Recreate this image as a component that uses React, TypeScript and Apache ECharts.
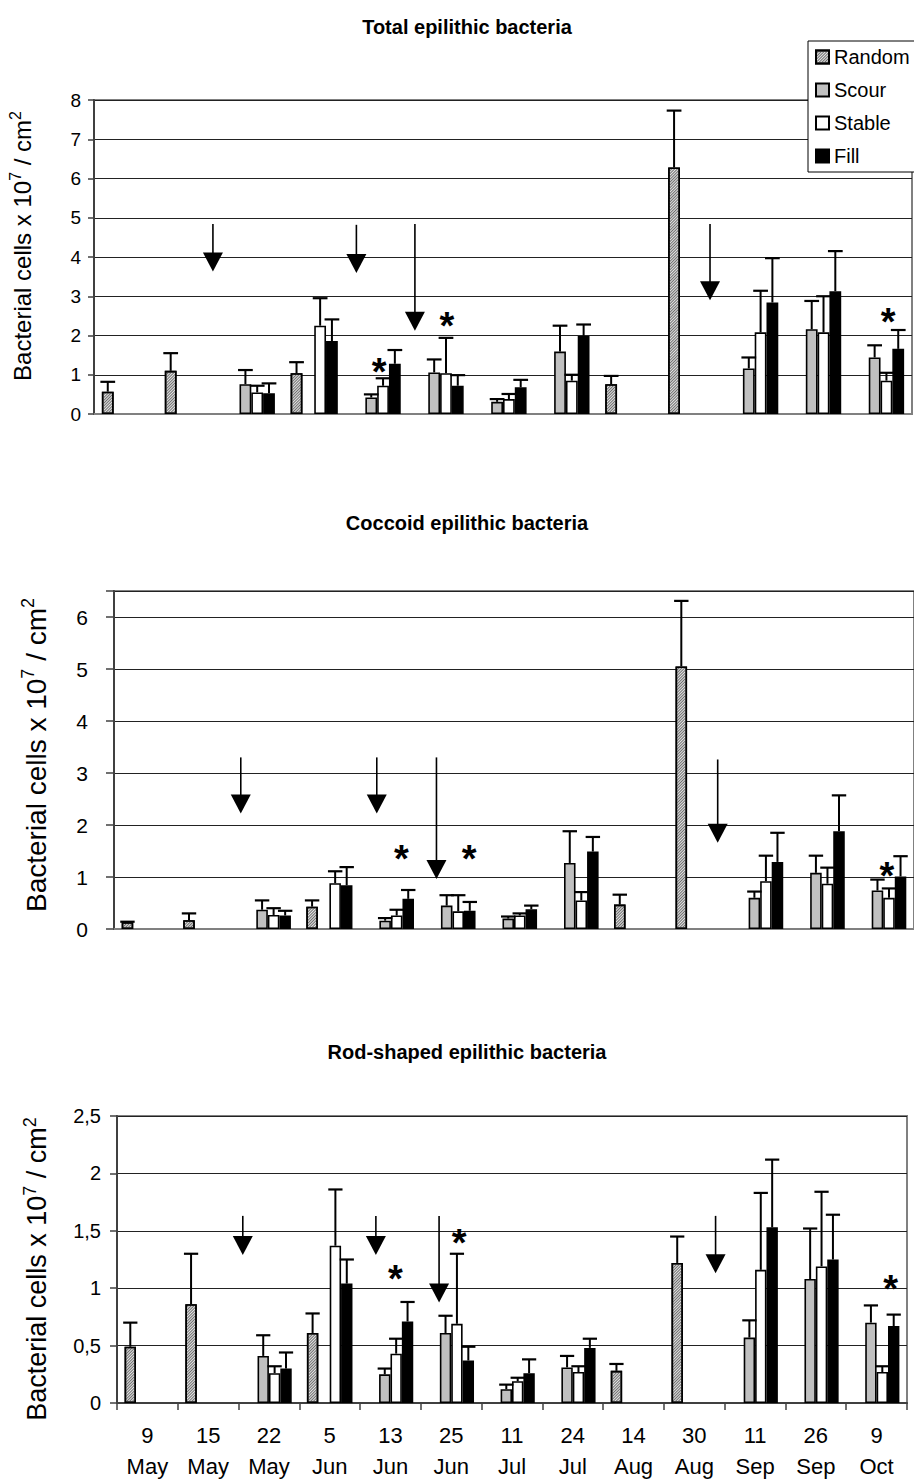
import React, { useEffect, useRef } from 'react';
import * as echarts from 'echarts';

const FONT = '"Liberation Sans", Arial, sans-serif';

const CATEGORIES = ['9\nMay', '15\nMay', '22\nMay', '5\nJun', '13\nJun', '25\nJun', '11\nJul', '24\nJul', '14\nAug', '30\nAug', '11\nSep', '26\nSep', '9\nOct'];
const SERIES_NAMES = ['Random', 'Scour', 'Stable', 'Fill'];

// ---- Total epilithic bacteria ----
const TOTAL_RANDOM = [0.57, 1.10, null, 1.04, null, null, null, null, 0.76, 6.28, null, null, null];
const TOTAL_RANDOM_ERR = [0.82, 1.55, null, 1.32, null, null, null, null, 0.97, 7.73, null, null, null];
const TOTAL_SCOUR = [null, null, 0.76, null, 0.42, 1.06, 0.31, 1.59, null, null, 1.16, 2.16, 1.44];
const TOTAL_SCOUR_ERR = [null, null, 1.12, null, 0.50, 1.39, 0.38, 2.25, null, null, 1.44, 2.88, 1.75];
const TOTAL_STABLE = [null, null, 0.55, 2.25, 0.72, 1.04, 0.38, 0.85, null, null, 2.08, 2.08, 0.85];
const TOTAL_STABLE_ERR = [null, null, 0.72, 2.95, 0.91, 1.94, 0.51, 1.00, null, null, 3.14, 3.00, 1.05];
const TOTAL_FILL = [null, null, 0.53, 1.86, 1.28, 0.72, 0.68, 1.99, null, null, 2.84, 3.13, 1.66];
const TOTAL_FILL_ERR = [null, null, 0.78, 2.41, 1.63, 0.99, 0.87, 2.28, null, null, 3.97, 4.15, 2.14];
// arrows: [position in category units, y start, y tip]
const TOTAL_ARROWS = [[1.89, 4.84, 3.63], [4.17, 4.82, 3.59], [5.10, 4.84, 2.12], [9.79, 4.84, 2.90]];
const TOTAL_STARS = [[4.53, 1.31], [5.61, 2.47], [12.62, 2.57]];

// ---- Coccoid epilithic bacteria ----
const COCC_RANDOM = [0.13, 0.17, null, 0.43, null, null, null, null, 0.47, 5.05, null, null, null];
const COCC_RANDOM_ERR = [0.14, 0.30, null, 0.55, null, null, null, null, 0.66, 6.31, null, null, null];
const COCC_SCOUR = [null, null, 0.37, null, 0.16, 0.45, 0.20, 1.27, null, null, 0.60, 1.08, 0.74];
const COCC_SCOUR_ERR = [null, null, 0.55, null, 0.21, 0.65, 0.24, 1.88, null, null, 0.72, 1.41, 0.95];
const COCC_STABLE = [null, null, 0.27, 0.88, 0.26, 0.34, 0.26, 0.55, null, null, 0.92, 0.87, 0.60];
const COCC_STABLE_ERR = [null, null, 0.40, 1.11, 0.37, 0.65, 0.30, 0.71, null, null, 1.41, 1.18, 0.78];
const COCC_FILL = [null, null, 0.26, 0.84, 0.58, 0.35, 0.38, 1.49, null, null, 1.29, 1.88, 1.01];
const COCC_FILL_ERR = [null, null, 0.35, 1.19, 0.75, 0.52, 0.45, 1.77, null, null, 1.85, 2.57, 1.40];
const COCC_ARROWS = [[2.06, 3.30, 2.22], [4.27, 3.30, 2.22], [5.24, 3.30, 0.96], [9.81, 3.26, 1.66]];
const COCC_STARS = [[4.67, 1.51], [5.77, 1.51], [12.56, 1.19]];

// ---- Rod-shaped epilithic bacteria ----
const ROD_RANDOM = [0.49, 0.86, null, 0.61, null, null, null, null, 0.28, 1.22, null, null, null];
const ROD_RANDOM_ERR = [0.70, 1.30, null, 0.78, null, null, null, null, 0.34, 1.45, null, null, null];
const ROD_SCOUR = [null, null, 0.41, null, 0.25, 0.61, 0.12, 0.31, null, null, 0.57, 1.08, 0.70];
const ROD_SCOUR_ERR = [null, null, 0.59, null, 0.30, 0.76, 0.16, 0.41, null, null, 0.72, 1.52, 0.85];
const ROD_STABLE = [null, null, 0.26, 1.37, 0.43, 0.69, 0.19, 0.27, null, null, 1.16, 1.19, 0.27];
const ROD_STABLE_ERR = [null, null, 0.32, 1.86, 0.56, 1.30, 0.22, 0.32, null, null, 1.83, 1.84, 0.32];
const ROD_FILL = [null, null, 0.30, 1.04, 0.71, 0.37, 0.26, 0.48, null, null, 1.53, 1.25, 0.67];
const ROD_FILL_ERR = [null, null, 0.44, 1.25, 0.88, 0.49, 0.38, 0.56, null, null, 2.12, 1.64, 0.77];
const ROD_ARROWS = [[2.07, 1.63, 1.29], [4.26, 1.63, 1.29], [5.30, 1.63, 0.876], [9.85, 1.63, 1.13]];
const ROD_STARS = [[4.58, 1.16], [5.63, 1.47], [12.73, 1.07]];

const BAR_STYLES: any[] = [
  {
    color: '#e4e4e4', borderColor: '#000', borderWidth: 1.6,
    decal: { symbol: 'rect', symbolSize: 1, dashArrayX: [1, 0], dashArrayY: [1, 1], rotation: -Math.PI / 4, color: '#6e6e6e' },
  },
  { color: '#c0c0c0', borderColor: '#000', borderWidth: 1.6 },
  { color: '#ffffff', borderColor: '#000', borderWidth: 1.6 },
  { color: '#000000', borderColor: '#000', borderWidth: 1.6 },
];

const PANELS = [
  {
    title: 'Total epilithic bacteria', titleTop: 12,
    grid: { left: 94, top: 100, width: 818, height: 314 },
    yMax: 8, yInterval: 1, labelFont: 19, labelMargin: 13, tickLen: 6,
    fmt: (v: number) => String(v),
    name: { x: 22, y: 246, size: 24, sup: 16 },
    values: [TOTAL_RANDOM, TOTAL_SCOUR, TOTAL_STABLE, TOTAL_FILL],
    errs: [TOTAL_RANDOM_ERR, TOTAL_SCOUR_ERR, TOTAL_STABLE_ERR, TOTAL_FILL_ERR],
    arrows: TOTAL_ARROWS, stars: TOTAL_STARS,
  },
  {
    title: 'Coccoid epilithic bacteria', titleTop: 508,
    grid: { left: 114, top: 591, width: 806, height: 338 },
    yMax: 6.5, yInterval: 1, labelFont: 21, labelMargin: 26, tickLen: 8,
    fmt: (v: number) => (Number.isInteger(v) ? String(v) : ''),
    name: { x: 36, y: 755, size: 28, sup: 18 },
    values: [COCC_RANDOM, COCC_SCOUR, COCC_STABLE, COCC_FILL],
    errs: [COCC_RANDOM_ERR, COCC_SCOUR_ERR, COCC_STABLE_ERR, COCC_FILL_ERR],
    arrows: COCC_ARROWS, stars: COCC_STARS,
  },
  {
    title: 'Rod-shaped epilithic bacteria', titleTop: 1037,
    grid: { left: 117, top: 1116, width: 790, height: 287 },
    yMax: 2.5, yInterval: 0.5, labelFont: 20, labelMargin: 16, tickLen: 7,
    fmt: (v: number) => String(v).replace('.', ','),
    name: { x: 37, y: 1269, size: 27, sup: 18 },
    values: [ROD_RANDOM, ROD_SCOUR, ROD_STABLE, ROD_FILL],
    errs: [ROD_RANDOM_ERR, ROD_SCOUR_ERR, ROD_STABLE_ERR, ROD_FILL_ERR],
    arrows: ROD_ARROWS, stars: ROD_STARS,
  },
];

const CAT_GAP = 0.25;

function errRender(params: any, api: any) {
  const ci = api.value(0);
  const si = api.value(1);
  const v = api.value(2);
  const e = api.value(3);
  const p0 = api.coord([ci, v]);
  const p1 = api.coord([ci, e]);
  const band = api.size([1, 0])[0];
  const w = (band * (1 - CAT_GAP)) / 4;
  const x = p0[0] - (band * (1 - CAT_GAP)) / 2 + w * (si + 0.5);
  const cap = w * 1.25;
  return {
    type: 'group',
    children: [
      { type: 'line', shape: { x1: x, y1: p0[1], x2: x, y2: p1[1] }, style: { stroke: '#000', lineWidth: 2 } },
      { type: 'line', shape: { x1: x - cap / 2, y1: p1[1], x2: x + cap / 2, y2: p1[1] }, style: { stroke: '#000', lineWidth: 2.2 } },
    ],
  };
}

function arrowRender(params: any, api: any) {
  const p1 = api.coord([api.value(0), api.value(1)]);
  const p2 = api.coord([api.value(0), api.value(2)]);
  const head = 19;
  const hw = 10;
  return {
    type: 'group',
    children: [
      { type: 'line', shape: { x1: p1[0], y1: p1[1], x2: p1[0], y2: p2[1] - head + 1 }, style: { stroke: '#000', lineWidth: 1.6 } },
      { type: 'polygon', shape: { points: [[p2[0] - hw, p2[1] - head], [p2[0] + hw, p2[1] - head], [p2[0], p2[1]]] }, style: { fill: '#000' } },
    ],
  };
}

function starRender(params: any, api: any) {
  const p = api.coord([api.value(0), api.value(1)]);
  return {
    type: 'text',
    x: p[0],
    y: p[1] + 9,
    style: { text: '*', fontSize: 38, fontWeight: 'bold', fontFamily: FONT, fill: '#000', align: 'center', verticalAlign: 'middle' },
  };
}

function buildOption() {
  const grids: any[] = [];
  const xAxes: any[] = [];
  const yAxes: any[] = [];
  const series: any[] = [];
  const titles: any[] = [];
  const graphics: any[] = [];

  PANELS.forEach((p, g) => {
    grids.push({ ...p.grid, show: true, borderColor: '#808080', borderWidth: 2, backgroundColor: 'transparent', containLabel: false });
    titles.push({
      text: p.title, left: 462, top: p.titleTop, textAlign: 'center',
      textStyle: { fontFamily: FONT, fontSize: 20, fontWeight: 'bold', color: '#000' },
    });
    xAxes.push({
      type: 'category', gridIndex: g, data: CATEGORIES,
      axisLine: { show: true, lineStyle: { color: g === 2 ? '#404040' : '#808080', width: 2 } },
      axisTick: { show: g === 2, length: 7, interval: 0, lineStyle: { color: '#404040', width: 1.5 } },
      axisLabel: { show: g === 2, interval: 0, fontSize: 22, lineHeight: 31, margin: 17, color: '#000', fontFamily: FONT },
      splitLine: { show: false },
    });
    xAxes.push({ type: 'value', gridIndex: g, min: 0, max: 13, show: false });
    yAxes.push({
      type: 'value', gridIndex: g, min: 0, max: p.yMax, interval: p.yInterval,
      axisLine: { show: true, lineStyle: { color: '#404040', width: 2 } },
      axisTick: { show: true, length: p.tickLen, lineStyle: { color: '#404040', width: 1.5 } },
      axisLabel: { fontSize: p.labelFont, margin: p.labelMargin, color: '#000', fontFamily: FONT, formatter: p.fmt },
      splitLine: { show: true, lineStyle: { color: '#222', width: 1 } },
    });
    const errData: any[] = [];
    SERIES_NAMES.forEach((name, si) => {
      series.push({
        type: 'bar', name, xAxisIndex: 2 * g, yAxisIndex: g, data: p.values[si],
        barGap: '0%', barCategoryGap: '25%', itemStyle: BAR_STYLES[si], z: 2,
      });
      p.values[si].forEach((v, ci) => {
        const e = p.errs[si][ci];
        if (v != null && e != null) errData.push([ci, si, v, e]);
      });
    });
    series.push({ type: 'custom', xAxisIndex: 2 * g, yAxisIndex: g, data: errData, renderItem: errRender, encode: { x: 0, y: 3 }, z: 3, silent: true });
    series.push({ type: 'custom', xAxisIndex: 2 * g + 1, yAxisIndex: g, data: p.arrows, renderItem: arrowRender, encode: { x: 0, y: [1, 2] }, z: 4, silent: true });
    series.push({ type: 'custom', xAxisIndex: 2 * g + 1, yAxisIndex: g, data: p.stars, renderItem: starRender, encode: { x: 0, y: 1 }, z: 4, silent: true });

    graphics.push({
      type: 'text', x: p.name.x, y: p.name.y, rotation: Math.PI / 2,
      style: {
        text: '{a|Bacterial cells x 10}{s|7}{a| / cm}{s|2}',
        align: 'center', verticalAlign: 'middle', fill: '#000', fontFamily: FONT,
        rich: {
          a: { fontSize: p.name.size, lineHeight: p.name.size + 6, fontFamily: FONT, fill: '#000' },
          s: { fontSize: p.name.sup, lineHeight: p.name.sup, verticalAlign: 'top', fontFamily: FONT, fill: '#000' },
        },
      },
    });
  });

  return {
    animation: false,
    backgroundColor: '#fff',
    textStyle: { fontFamily: FONT },
    title: titles,
    legend: {
      data: SERIES_NAMES, orient: 'vertical', left: 808, top: 41, icon: 'rect',
      itemWidth: 13, itemHeight: 13, itemGap: 13,
      padding: [6, 8, 6, 7], borderColor: '#000', borderWidth: 1, backgroundColor: '#fff',
      textStyle: { fontSize: 20, color: '#000', fontFamily: FONT }, z: 10, selectedMode: false,
    },
    grid: grids,
    xAxis: xAxes,
    yAxis: yAxes,
    series,
    graphic: graphics,
  };
}

export default function App() {
  const ref = useRef<HTMLDivElement>(null);
  useEffect(() => {
    document.body.style.margin = '0';
    if (!ref.current) return;
    const chart = echarts.init(ref.current, undefined, { renderer: 'svg' });
    chart.setOption(buildOption() as any);
    return () => chart.dispose();
  }, []);
  return <div ref={ref} style={{ width: 914, height: 1484 }} />;
}
